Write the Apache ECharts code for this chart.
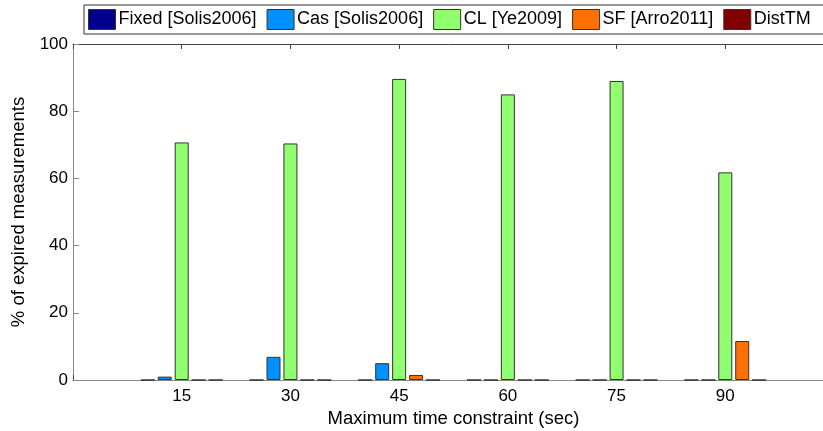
<!DOCTYPE html>
<html>
<head>
<meta charset="utf-8">
<script src="https://cdn.jsdelivr.net/npm/echarts@6/dist/echarts.min.js"></script>
<style>
  html, body { margin: 0; padding: 0; background: #fff; }
  #chart { width: 823px; height: 431px; }
</style>
</head>
<body>
<div id="chart"></div>
<script>
var timeConstraints = [15, 30, 45, 60, 75, 90];
var seriesNames = ['Fixed [Solis2006]', 'Cas [Solis2006]', 'CL [Ye2009]', 'SF [Arro2011]', 'DistTM'];
var fixedValues = [0, 0, 0, 0, 0, 0];
var casValues = [1.0, 6.9, 5.0, 0, 0, 0];
var clValues = [70.7, 70.4, 89.6, 85.0, 89.0, 61.8];
var sfValues = [0, 0, 1.5, 0, 0, 11.6];
var distValues = [0, 0, 0, 0, 0, 0];
var colors = ['#00008f', '#0090ff', '#90ff70', '#ff7000', '#800000'];

var chart = echarts.init(document.getElementById('chart'));
var font = 'Liberation Sans';

var allValues = [fixedValues, casValues, clValues, sfValues, distValues];
var series = seriesNames.map(function(name, i) {
    return {
        name: name,
        type: 'bar',
        xAxisIndex: 0,
        barWidth: 14,
        barGap: '21%',
        data: timeConstraints.map(function(t, j) { return [t, allValues[i][j]]; }),
        itemStyle: { color: colors[i], borderColor: '#333', borderWidth: 1 },
        emphasis: { disabled: true }
    };
});

var option = {
    animation: false,
    color: colors,
    grid: { left: 73, width: 761, top: 44, bottom: 51, outerBoundsMode: 'none', containLabel: false },
    legend: {
        left: 84,
        top: 5,
        width: 820,
        padding: [4, 30, 4, 4],
        borderColor: '#333',
        borderWidth: 1,
        itemWidth: 27,
        itemHeight: 20,
        itemGap: 10,
        icon: 'rect',
        itemStyle: { borderColor: '#333', borderWidth: 1 },
        textStyle: { fontFamily: font, fontSize: 18, color: '#000', padding: [0, 0, 0, -2] },
        data: seriesNames
    },
    xAxis: [{
        type: 'value',
        min: 0,
        max: 105,
        interval: 15,
        name: 'Maximum time constraint (sec)',
        nameLocation: 'middle',
        nameGap: 29,
        nameTextStyle: { fontFamily: font, fontSize: 18.5, color: '#000' },
        axisLine: { lineStyle: { color: '#888' } },
        axisTick: { inside: true, length: 5, lineStyle: { color: '#444' } },
        splitLine: { show: false },
        axisLabel: {
            fontFamily: font, fontSize: 17, color: '#000', margin: 8,
            formatter: function(v) { return (v === 0 || v === 105) ? '' : v; }
        }
    }, {
        type: 'value',
        position: 'top',
        min: 0,
        max: 105,
        interval: 15,
        axisLine: { show: true, onZero: false, lineStyle: { color: '#444' } },
        axisTick: { inside: true, length: 5, lineStyle: { color: '#444' } },
        axisLabel: { show: false },
        splitLine: { show: false }
    }],
    yAxis: {
        type: 'value',
        min: 0,
        max: 100,
        interval: 20,
        name: '% of expired measurements',
        nameLocation: 'middle',
        nameGap: 42,
        nameTextStyle: { fontFamily: font, fontSize: 18.5, color: '#000' },
        axisLine: { show: true, lineStyle: { color: '#888' } },
        axisTick: { show: true, inside: true, length: 6, lineStyle: { color: '#888' } },
        splitLine: { show: false },
        axisLabel: { fontFamily: font, fontSize: 17, color: '#000', margin: 5 }
    },
    series: series
};

chart.setOption(option);
</script>
</body>
</html>
